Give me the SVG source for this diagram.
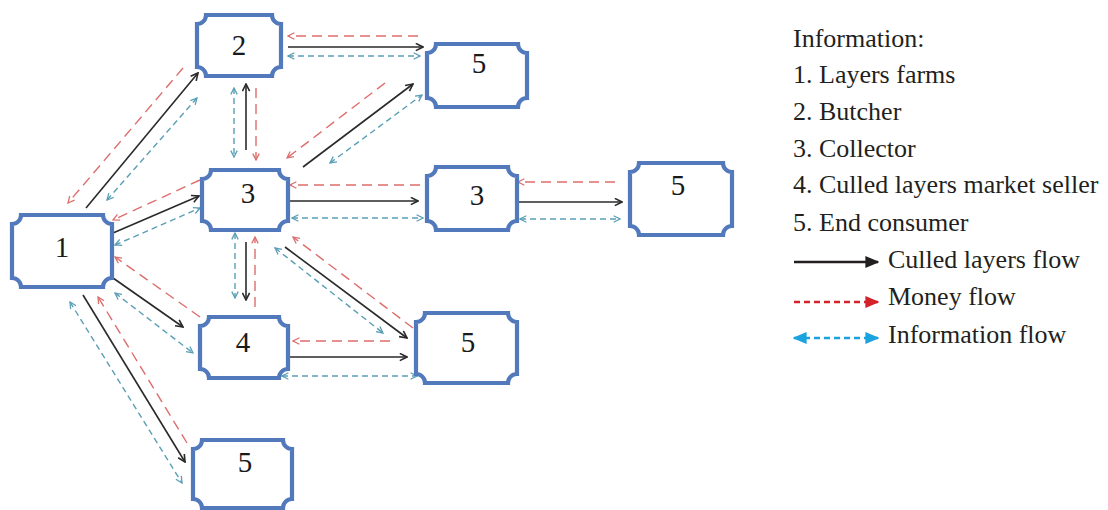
<svg xmlns="http://www.w3.org/2000/svg" width="1108" height="510" viewBox="0 0 1108 510">
<defs>
<style>
.node{fill:#ffffff;stroke:#5279bb;stroke-width:4.2}
.lbl{font-family:"Liberation Serif","Times New Roman",serif;font-size:29px;fill:#1a1a1a;text-anchor:middle}
.leg{font-family:"Liberation Serif","Times New Roman",serif;font-size:26px;fill:#231f20}
.blk{stroke:#2a2a2a;stroke-width:1.6;fill:none;marker-end:url(#ak)}
.red{stroke:#dc6e6c;stroke-width:1.4;fill:none;stroke-dasharray:10 6;marker-end:url(#ar)}
.blu{stroke:#5a9fb6;stroke-width:1.4;fill:none;stroke-dasharray:6 4;marker-start:url(#ab);marker-end:url(#ab)}
</style>
<marker id="ak" viewBox="0 0 10 10" refX="9" refY="5" markerWidth="9" markerHeight="9" markerUnits="userSpaceOnUse" orient="auto-start-reverse"><path d="M1,1 L9,5 L1,9" fill="none" stroke="#2a2a2a" stroke-width="1.8"/></marker>
<marker id="ar" viewBox="0 0 10 10" refX="9" refY="5" markerWidth="8" markerHeight="8" markerUnits="userSpaceOnUse" orient="auto-start-reverse"><path d="M1,1 L9,5 L1,9" fill="none" stroke="#dc6e6c" stroke-width="1.6"/></marker>
<marker id="ab" viewBox="0 0 10 10" refX="9" refY="5" markerWidth="8" markerHeight="8" markerUnits="userSpaceOnUse" orient="auto-start-reverse"><path d="M1,1 L9,5 L1,9" fill="none" stroke="#5a9fb6" stroke-width="1.6"/></marker>
<marker id="lk" viewBox="0 0 10 10" refX="9" refY="5" markerWidth="14" markerHeight="12" markerUnits="userSpaceOnUse" orient="auto-start-reverse" preserveAspectRatio="none"><path d="M0,0 L10,5 L0,10 Z" fill="#231f20"/></marker>
<marker id="lr" viewBox="0 0 10 10" refX="9" refY="5" markerWidth="14" markerHeight="12" markerUnits="userSpaceOnUse" orient="auto-start-reverse" preserveAspectRatio="none"><path d="M0,0 L10,5 L0,10 Z" fill="#d2232a"/></marker>
<marker id="lb" viewBox="0 0 10 10" refX="9" refY="5" markerWidth="14" markerHeight="12" markerUnits="userSpaceOnUse" orient="auto-start-reverse" preserveAspectRatio="none"><path d="M0,0 L10,5 L0,10 Z" fill="#1ba3df"/></marker>
</defs>
<rect width="1108" height="510" fill="#ffffff"/>

<g id="connectors">
<path class="blk" d="M288,47 L423,47"/>
<path class="blk" d="M246,150 L246,84"/>
<path class="blk" d="M303,167 L413,84"/>
<path class="blk" d="M86,208 L198,73"/>
<path class="blk" d="M113,233 L199,196"/>
<path class="blk" d="M290,201 L418,201"/>
<path class="blk" d="M518,202 L622,202"/>
<path class="blk" d="M246,242 L246,300"/>
<path class="blk" d="M113,278 L183,327"/>
<path class="blk" d="M285,247 L407,338"/>
<path class="blk" d="M290,357 L407,357"/>
<path class="blk" d="M83,295 L185,462"/>

<path class="red" d="M418,36 L288,36"/>
<path class="red" d="M256,88 L256,160"/>
<path class="red" d="M385,83 L287,158"/>
<path class="red" d="M183,68 L68,203"/>
<path class="red" d="M200,180 L113,220"/>
<path class="red" d="M420,185 L290,185"/>
<path class="red" d="M615,182 L518,182"/>
<path class="red" d="M255,307 L255,237"/>
<path class="red" d="M200,317 L115,257"/>
<path class="red" d="M413,328 L293,237"/>
<path class="red" d="M390,341 L293,341"/>
<path class="red" d="M187,443 L98,297"/>

<path class="blu" d="M288,56 L420,56"/>
<path class="blu" d="M234,88 L234,157"/>
<path class="blu" d="M330,163 L422,95"/>
<path class="blu" d="M107,200 L197,98"/>
<path class="blu" d="M115,245 L200,208"/>
<path class="blu" d="M292,218 L423,218"/>
<path class="blu" d="M520,219 L620,219"/>
<path class="blu" d="M235,233 L235,298"/>
<path class="blu" d="M115,293 L193,353"/>
<path class="blu" d="M275,248 L383,333"/>
<path class="blu" d="M282,376 L417,376"/>
<path class="blu" d="M70,302 L182,483"/>
</g>

<g id="n1"><path class="node" d="M21,215 H103 A9,9 0 0 0 112,224 V278 A9,9 0 0 0 103,287 H21 A9,9 0 0 0 12,278 V224 A9,9 0 0 0 21,215 Z"/><text class="lbl" x="62" y="257">1</text></g>
<g id="n2"><path class="node" d="M206,15 H272 A9,9 0 0 0 281,24 V67 A9,9 0 0 0 272,76 H206 A9,9 0 0 0 197,67 V24 A9,9 0 0 0 206,15 Z"/><text class="lbl" x="239" y="55">2</text></g>
<g id="n5a"><path class="node" d="M436,44 H518 A9,9 0 0 0 527,53 V98 A9,9 0 0 0 518,107 H436 A9,9 0 0 0 427,98 V53 A9,9 0 0 0 436,44 Z"/><text class="lbl" x="479" y="73">5</text></g>
<g id="n3a"><path class="node" d="M211,170 H279 A9,9 0 0 0 288,179 V221 A9,9 0 0 0 279,230 H211 A9,9 0 0 0 202,221 V179 A9,9 0 0 0 211,170 Z"/><text class="lbl" x="248" y="203">3</text></g>
<g id="n3b"><path class="node" d="M436,167 H508 A9,9 0 0 0 517,176 V221 A9,9 0 0 0 508,230 H436 A9,9 0 0 0 427,221 V176 A9,9 0 0 0 436,167 Z"/><text class="lbl" x="477" y="205">3</text></g>
<g id="n5b"><path class="node" d="M639,163 H723 A9,9 0 0 0 732,172 V226 A9,9 0 0 0 723,235 H639 A9,9 0 0 0 630,226 V172 A9,9 0 0 0 639,163 Z"/><text class="lbl" x="678" y="195">5</text></g>
<g id="n4"><path class="node" d="M209,317 H279 A9,9 0 0 0 288,326 V369 A9,9 0 0 0 279,378 H209 A9,9 0 0 0 200,369 V326 A9,9 0 0 0 209,317 Z"/><text class="lbl" x="243" y="352">4</text></g>
<g id="n5c"><path class="node" d="M425,313 H508 A9,9 0 0 0 517,322 V374 A9,9 0 0 0 508,383 H425 A9,9 0 0 0 416,374 V322 A9,9 0 0 0 425,313 Z"/><text class="lbl" x="468" y="352">5</text></g>
<g id="n5d"><path class="node" d="M202,440 H283 A9,9 0 0 0 292,449 V499 A9,9 0 0 0 283,508 H202 A9,9 0 0 0 193,499 V449 A9,9 0 0 0 202,440 Z"/><text class="lbl" x="245" y="472">5</text></g>

<g id="legend">
<text class="leg" x="793" y="47">Information:</text>
<text class="leg" x="793" y="83">1. Layers farms</text>
<text class="leg" x="793" y="120">2. Butcher</text>
<text class="leg" x="793" y="157">3. Collector</text>
<text class="leg" x="793" y="193">4. Culled layers market seller</text>
<text class="leg" x="793" y="231">5. End consumer</text>
<text class="leg" x="888" y="268">Culled layers flow</text>
<text class="leg" x="888" y="305">Money flow</text>
<text class="leg" x="888" y="343">Information flow</text>
<path d="M794,262 L878,262" stroke="#231f20" stroke-width="2.5" fill="none" marker-end="url(#lk)"/>
<path d="M794,302 L878,302" stroke="#d2232a" stroke-width="2.5" fill="none" stroke-dasharray="6 4" marker-end="url(#lr)"/>
<path d="M794,338 L878,338" stroke="#1ba3df" stroke-width="2.5" fill="none" stroke-dasharray="6 4" marker-start="url(#lb)" marker-end="url(#lb)"/>
</g>
</svg>
